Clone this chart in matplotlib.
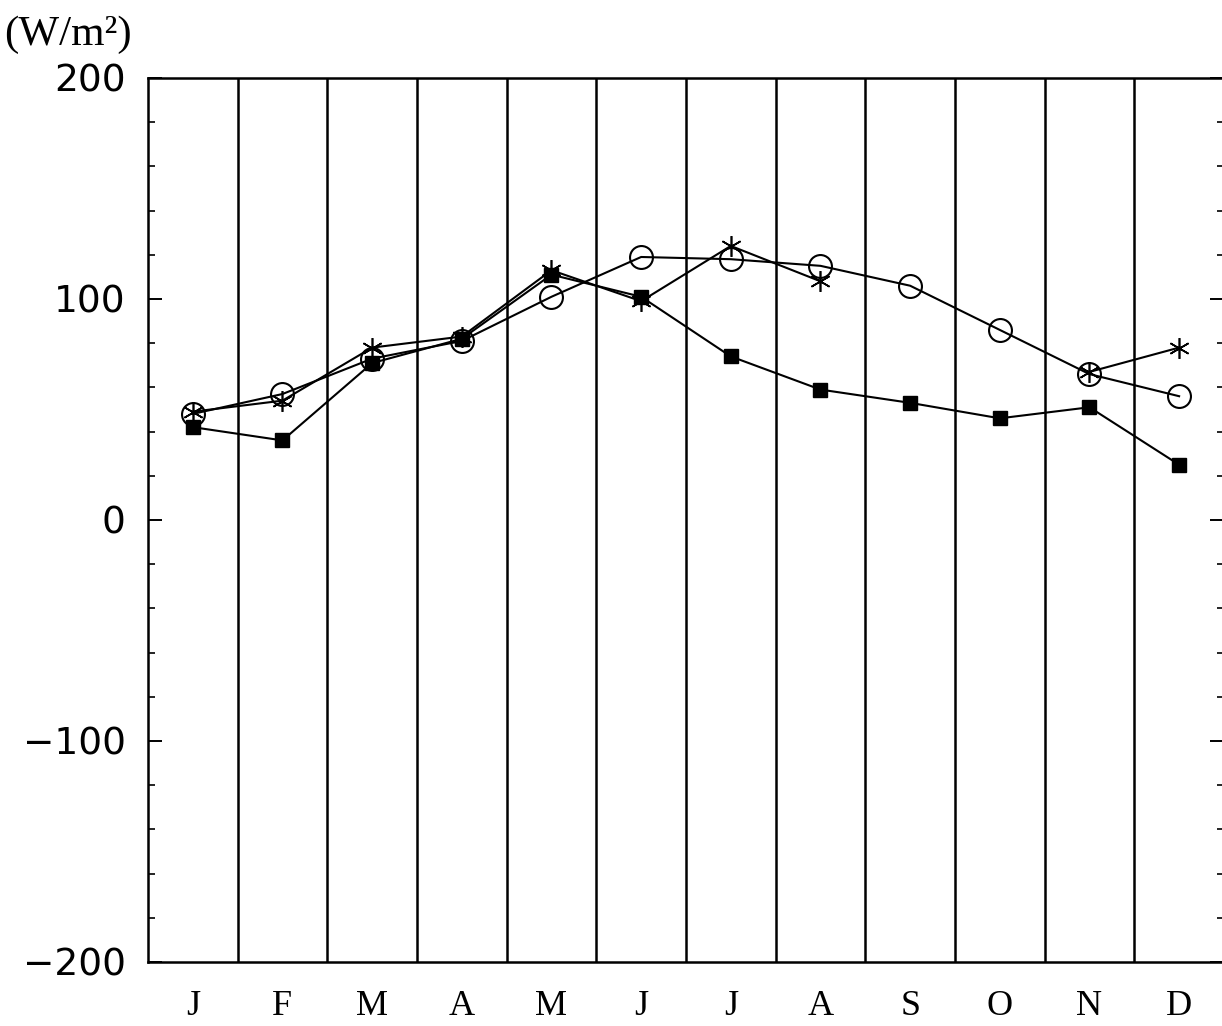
import matplotlib.pyplot as plt
import numpy as np

# monthly values (W/m2)
months = ['J', 'F', 'M', 'A', 'M', 'J', 'J', 'A', 'S', 'O', 'N', 'D']
squares = [42, 36, 71, 82, 111, 101, 74, 59, 53, 46, 51, 25]
circles = [48, 57, 73, 81, 101, 119, 118, 115, 106, 86, 66, 56]
stars = [49, 54, 78, 83, 113, 99, 124, 108, np.nan, np.nan, 67, 78]

x = np.arange(12) + 0.5

fig = plt.figure(figsize=(12.22, 10.26), dpi=100)
ax = fig.add_axes([0.1211, 0.0624, 0.8805, 0.8616])

# month dividers
for b in range(1, 12):
    ax.axvline(b, color='black', lw=1.8, zorder=1)

ax.plot(x, stars, color='black', lw=1.5, marker=(6, 2, 0), ms=15,
        mec='black', mew=1.2, zorder=2)
ax.plot(x, squares, color='black', lw=1.5, marker='s', ms=9.5,
        mfc='black', mec='black', zorder=3)
ax.plot(x, circles, color='black', lw=1.5, marker='o', ms=16.5,
        mfc='none', mec='black', mew=1.5, zorder=3)

ax.set_xlim(0, 12)
ax.set_ylim(-200, 200)
ax.set_xticks(x)
ax.set_xticklabels(months, family='Liberation Serif', fontsize=26)
ax.tick_params(axis='x', length=0, pad=20)

ax.set_yticks([-200, -100, 0, 100, 200])
ax.set_yticklabels(['\u2212200', '\u2212100', '0', '100', '200'],
                   family='DejaVu Sans', fontsize=27)
ax.set_yticks(np.arange(-200, 201, 20), minor=True)
ax.tick_params(axis='y', which='major', direction='in', length=10, width=1.4,
               left=True, right=True, pad=16)
ax.tick_params(axis='y', which='minor', direction='in', length=5, width=1.2,
               left=True, right=True)

for s in ax.spines.values():
    s.set_linewidth(1.8)
ax.spines['right'].set_visible(False)

fig.text(0.003, 0.966, '(W/m\u00b2)', family='Liberation Serif', fontsize=31,
         ha='left', va='center')

plt.savefig('out.png', dpi=100)
plt.close()
